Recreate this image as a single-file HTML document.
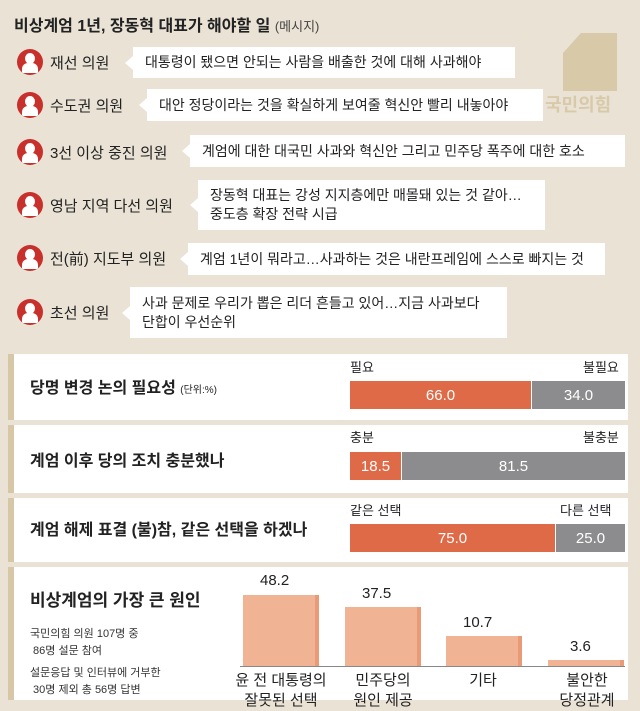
<!DOCTYPE html>
<html><head><meta charset="utf-8"><style>
body{margin:0;width:640px;height:707px;background:#e9e2d5;position:relative;overflow:hidden;font-family:"Liberation Sans","Noto Sans CJK KR",sans-serif;color:#222}
.a{position:absolute;white-space:nowrap}
.ic{position:absolute;width:26px;height:26px;border-radius:50%;background:#c8302c;overflow:hidden}
.ic:before{content:"";position:absolute;left:8px;top:4px;width:10px;height:11px;border-radius:50%;background:#fff}
.ic:after{content:"";position:absolute;left:5px;top:14px;width:16px;height:10px;border-radius:6px 6px 1px 1px;background:#fff}
.lb{font-size:15px;color:#222}
.bb{position:absolute;background:#fff;font-size:14px;line-height:19px;padding:0 0 0 12px;box-sizing:border-box;display:flex;align-items:center}
.bb:before{content:"";position:absolute;left:-8px;top:50%;margin-top:-7px;border:7px solid transparent;border-right:8px solid #fff;border-left:0}
.pn{position:absolute;left:8px;width:620px;background:#fff;border-left:6px solid #d7c7a6;box-sizing:border-box}
.t{font-size:16px;font-weight:bold}
.bar{position:absolute;height:28px;color:#fff;font-size:15px;display:flex;align-items:center;justify-content:center}
.o{background:#df6a48}.g{background:#8c8c8e}
.vb{position:absolute;background:#f0b393;border-right:4px solid #e99a76}
.sm{font-size:11px;color:#333;line-height:17px}
.cl{position:absolute;font-size:15px;text-align:center;line-height:20px;width:110px}
</style></head><body>
<div class="a" style="left:14px;top:12px;font-size:16px;font-weight:bold">비상계엄 1년, 장동혁 대표가 해야할 일 <span style="font-weight:normal;font-size:13px;color:#444">(메시지)</span></div>
<svg class="a" style="left:563px;top:33px" width="54" height="58"><polygon points="18,0 54,0 54,58 0,58 0,20" fill="#d8c9a8"/></svg>
<div class="a" style="left:545px;top:91px;font-size:18px;font-weight:bold;color:#d8c9a8">국민의힘</div>

<div class="ic" style="left:17px;top:49px"></div><div class="a lb" style="left:50px;top:52px">재선 의원</div>
<div class="bb" style="left:133px;top:47px;width:382px;height:31px">대통령이 됐으면 안되는 사람을 배출한 것에 대해 사과해야</div>
<div class="ic" style="left:17px;top:92px"></div><div class="a lb" style="left:50px;top:95px">수도권 의원</div>
<div class="bb" style="left:147px;top:89px;width:396px;height:32px">대안 정당이라는 것을 확실하게 보여줄 혁신안 빨리 내놓아야</div>
<div class="ic" style="left:17px;top:139px"></div><div class="a lb" style="left:50px;top:142px">3선 이상 중진 의원</div>
<div class="bb" style="left:190px;top:135px;width:435px;height:32px">계엄에 대한 대국민 사과와 혁신안 그리고 민주당 폭주에 대한 호소</div>
<div class="ic" style="left:17px;top:192px"></div><div class="a lb" style="left:50px;top:195px">영남 지역 다선 의원</div>
<div class="bb" style="left:198px;top:180px;width:347px;height:50px">장동혁 대표는 강성 지지층에만 매몰돼 있는 것 같아…<br>중도층 확장 전략 시급</div>
<div class="ic" style="left:17px;top:245px"></div><div class="a lb" style="left:50px;top:248px">전(前) 지도부 의원</div>
<div class="bb" style="left:188px;top:243px;width:417px;height:32px">계엄 1년이 뭐라고…사과하는 것은 내란프레임에 스스로 빠지는 것</div>
<div class="ic" style="left:17px;top:299px"></div><div class="a lb" style="left:50px;top:302px">초선 의원</div>
<div class="bb" style="left:130px;top:287px;width:377px;height:51px">사과 문제로 우리가 뽑은 리더 흔들고 있어…지금 사과보다<br>단합이 우선순위</div>

<div class="pn" style="top:354px;height:66px"></div>
<div class="a t" style="left:30px;top:374px">당명 변경 논의 필요성 <span style="font-weight:normal;font-size:10px">(단위:%)</span></div>
<div class="a" style="left:350px;top:357px;font-size:13px">필요</div><div class="a" style="left:583px;top:357px;font-size:13px">불필요</div>
<div class="bar o" style="left:350px;top:381px;width:181px">66.0</div><div class="bar g" style="left:532px;top:381px;width:93px">34.0</div>

<div class="pn" style="top:425px;height:68px"></div>
<div class="a t" style="left:30px;top:447px">계엄 이후 당의 조치 충분했나</div>
<div class="a" style="left:350px;top:427px;font-size:13px">충분</div><div class="a" style="left:583px;top:427px;font-size:13px">불충분</div>
<div class="bar o" style="left:350px;top:452px;width:51px">18.5</div><div class="bar g" style="left:402px;top:452px;width:223px">81.5</div>

<div class="pn" style="top:498px;height:64px"></div>
<div class="a t" style="left:30px;top:516px">계엄 해제 표결 (불)참, 같은 선택을 하겠나</div>
<div class="a" style="left:350px;top:500px;font-size:13px">같은 선택</div><div class="a" style="left:560px;top:500px;font-size:13px">다른 선택</div>
<div class="bar o" style="left:350px;top:524px;width:205px">75.0</div><div class="bar g" style="left:556px;top:524px;width:69px">25.0</div>

<div class="pn" style="top:567px;height:133px"></div>
<div class="a t" style="left:30px;top:586px;font-size:17px">비상계엄의 가장 큰 원인</div>
<div class="a sm" style="left:30px;top:626px">국민의힘 의원 107명 중<br>&nbsp;86명 설문 참여</div>
<div class="a sm" style="left:30px;top:665px">설문응답 및 인터뷰에 거부한<br>&nbsp;30명 제외 총 56명 답변</div>
<div class="vb" style="left:243px;top:595px;width:72px;height:71px"></div>
<div class="vb" style="left:345px;top:607px;width:72px;height:59px"></div>
<div class="vb" style="left:446px;top:636px;width:72px;height:30px"></div>
<div class="vb" style="left:548px;top:660px;width:72px;height:6px"></div>
<div class="a" style="left:240px;top:666px;width:385px;height:1px;background:#888"></div>
<div class="a" style="left:260px;top:572px;font-size:15px">48.2</div>
<div class="a" style="left:362px;top:585px;font-size:15px">37.5</div>
<div class="a" style="left:463px;top:614px;font-size:15px">10.7</div>
<div class="a" style="left:570px;top:638px;font-size:15px">3.6</div>
<div class="cl" style="left:226px;top:671px">윤 전 대통령의<br>잘못된 선택</div>
<div class="cl" style="left:328px;top:671px">민주당의<br>원인 제공</div>
<div class="cl" style="left:428px;top:671px">기타</div>
<div class="cl" style="left:532px;top:671px">불안한<br>당정관계</div>
</body></html>
